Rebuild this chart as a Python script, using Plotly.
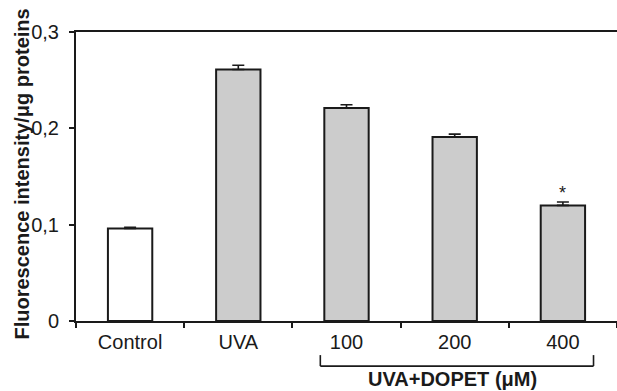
import plotly.graph_objects as go

# Lipid peroxidation readout per treatment group
categories = ["Control", "UVA", "100", "200", "400"]
values = [0.096, 0.261, 0.221, 0.191, 0.120]
errors = [0.0012, 0.0045, 0.0035, 0.003, 0.0035]
bar_colors = ["#ffffff", "#cccccc", "#cccccc", "#cccccc", "#cccccc"]

y_tickvals = [0, 0.1, 0.2, 0.3]
y_ticktext = ["0", "0,1", "0,2", "0,3"]

FONT = "Liberation Sans, Arial, sans-serif"
INK = "#1a1a1a"

fig = go.Figure()
fig.add_trace(go.Bar(
    x=categories,
    y=values,
    width=0.41,
    marker=dict(color=bar_colors, line=dict(color=INK, width=2)),
    error_y=dict(type="data", array=errors, symmetric=False,
                 arrayminus=[0] * len(errors),
                 color=INK, thickness=1.6, width=6),
))

# significance mark above the 400 µM bar
fig.add_annotation(x=4, y=0.133, text="*",
                   showarrow=False, font=dict(family=FONT, size=18, color=INK),
                   yanchor="middle", xanchor="center")

# bracket grouping the DOPET concentrations
x0, x1 = 1.758, 4.283
yt, yb = -0.118, -0.156
for xs, ys in [([x0, x0], [yt, yb]), ([x0, x1], [yb, yb]), ([x1, x1], [yb, yt])]:
    fig.add_shape(type="line", xref="x", yref="paper",
                  x0=xs[0], x1=xs[1], y0=ys[0], y1=ys[1],
                  line=dict(color=INK, width=1.6))

fig.add_annotation(xref="x", yref="paper", x=2.98, y=-0.2,
                   text="<b>UVA+DOPET (μM)</b>", showarrow=False,
                   font=dict(family=FONT, size=20, color=INK),
                   yanchor="middle", xanchor="center")

fig.add_annotation(xref="paper", yref="paper", x=-0.1, y=0.51,
                   text="<b>Fluorescence intensity/μg proteins</b>",
                   textangle=-90, showarrow=False,
                   font=dict(family=FONT, size=20, color=INK),
                   xanchor="center", yanchor="middle")

fig.update_xaxes(
    type="category", range=[-0.5, 4.5],
    showline=True, linecolor=INK, linewidth=2, mirror=True,
    ticks="outside", tickson="boundaries", ticklen=5, tickcolor=INK, tickwidth=1.5,
    tickfont=dict(family=FONT, size=20, color=INK), ticklabelstandoff=2,
    showgrid=False, zeroline=False,
)
fig.update_yaxes(
    range=[0, 0.3], tickvals=y_tickvals, ticktext=y_ticktext,
    showline=True, linecolor=INK, linewidth=2, mirror=False,
    ticks="outside", ticklen=5, tickcolor=INK, tickwidth=1.5,
    tickfont=dict(family=FONT, size=20, color=INK), ticklabelstandoff=6,
    showgrid=False, zeroline=False,
)

fig.update_layout(
    width=617, height=391,
    margin=dict(l=76, r=0, t=32, b=70),
    paper_bgcolor="white", plot_bgcolor="white",
    showlegend=False, bargap=0.59,
)

fig.write_html("out.html")
